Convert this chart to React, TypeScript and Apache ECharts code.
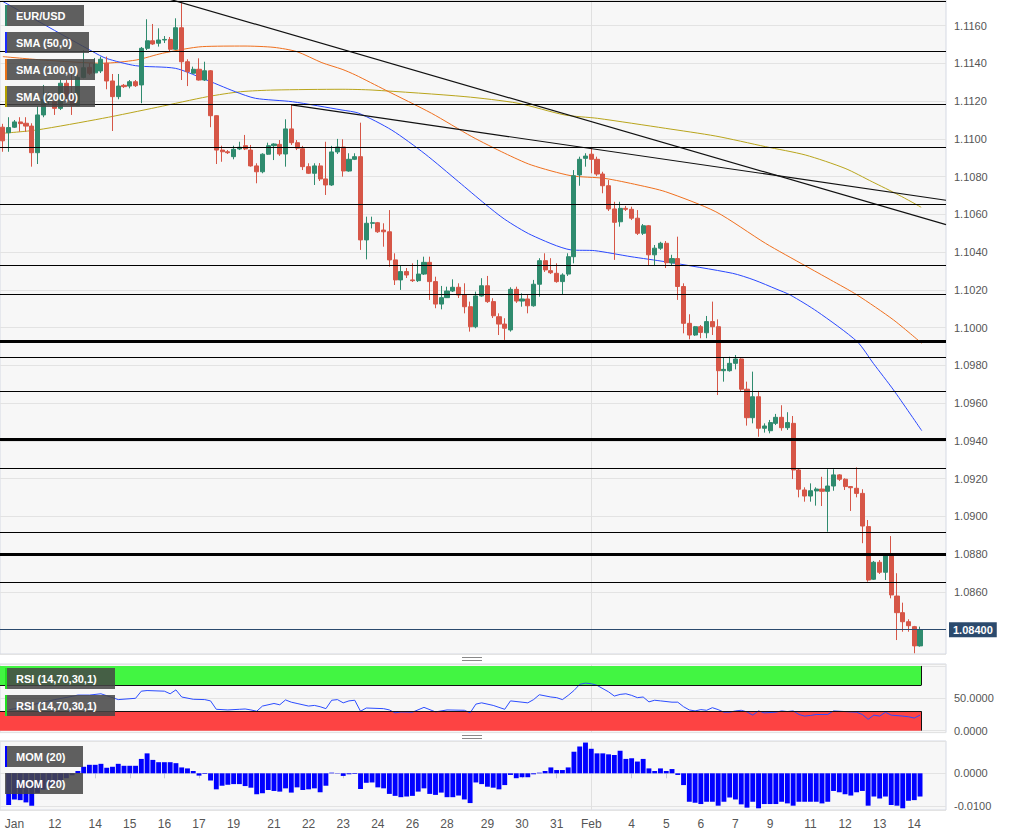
import React, { useEffect, useRef } from 'react';
import * as echarts from 'echarts';

// ---------- DATA ----------
// x-axis day labels and the bar (4h candle) index where each label sits
const dayLabels = ['Jan', '12', '14', '15', '16', '17', '19', '21', '22', '23', '24', '26', '28', '29', '30', '31', 'Feb', '4', '5', '6', '7', '9', '11', '12', '13', '14'];
const dayLabelBars = [1, 8, 15, 21, 27, 33, 39, 46, 52, 58, 64, 70, 76, 83, 89, 95, 101, 108, 114, 120, 126, 132, 139, 145, 151, 157];

// EUR/USD 4h candles: [open, close, low, high]; first one is the partly hidden candle at the left edge
const candles: number[][] = [
  [1.11062, 1.10990, 1.10932, 1.11080],
  [1.11033, 1.11060, 1.10932, 1.11115],
  [1.11062, 1.11090, 1.11058, 1.11100],
  [1.11090, 1.11081, 1.11038, 1.11115],
  [1.11083, 1.11068, 1.11038, 1.11115],
  [1.11068, 1.10927, 1.10853, 1.11083],
  [1.10927, 1.11127, 1.10867, 1.11174],
  [1.11127, 1.11210, 1.11115, 1.11286],
  [1.11201, 1.11211, 1.11185, 1.11249],
  [1.11197, 1.11162, 1.11127, 1.11224],
  [1.11162, 1.11295, 1.11153, 1.11312],
  [1.11295, 1.11224, 1.11206, 1.11312],
  [1.11224, 1.11176, 1.11127, 1.11348],
  [1.11176, 1.11326, 1.11174, 1.11339],
  [1.11326, 1.11377, 1.11321, 1.11471],
  [1.11379, 1.11348, 1.11339, 1.11402],
  [1.11350, 1.11397, 1.11345, 1.11429],
  [1.11360, 1.11422, 1.11349, 1.11436],
  [1.11401, 1.11307, 1.11263, 1.11436],
  [1.11307, 1.11224, 1.11042, 1.11344],
  [1.11224, 1.11280, 1.11210, 1.11344],
  [1.11284, 1.11277, 1.11270, 1.11291],
  [1.11280, 1.11303, 1.11268, 1.11312],
  [1.11303, 1.11282, 1.11275, 1.11312],
  [1.11286, 1.11480, 1.11189, 1.11487],
  [1.11480, 1.11520, 1.11471, 1.11634],
  [1.11520, 1.11503, 1.11498, 1.11609],
  [1.11507, 1.11524, 1.11489, 1.11586],
  [1.11524, 1.11527, 1.11508, 1.11545],
  [1.11527, 1.11475, 1.11461, 1.11540],
  [1.11475, 1.11589, 1.11471, 1.11639],
  [1.11589, 1.11409, 1.11312, 1.11719],
  [1.11409, 1.11356, 1.11280, 1.11422],
  [1.11348, 1.11369, 1.11344, 1.11383],
  [1.11369, 1.11312, 1.11309, 1.11427],
  [1.11312, 1.11361, 1.11307, 1.11409],
  [1.11361, 1.11123, 1.11062, 1.11365],
  [1.11123, 1.10941, 1.10867, 1.11125],
  [1.10941, 1.10932, 1.10879, 1.10964],
  [1.10932, 1.10927, 1.10920, 1.10941],
  [1.10906, 1.10945, 1.10892, 1.10964],
  [1.10947, 1.10956, 1.10941, 1.10985],
  [1.10964, 1.10947, 1.10941, 1.11021],
  [1.10941, 1.10857, 1.10853, 1.10968],
  [1.10857, 1.10826, 1.10765, 1.10871],
  [1.10826, 1.10919, 1.10818, 1.10924],
  [1.10919, 1.10964, 1.10915, 1.10980],
  [1.10964, 1.10973, 1.10888, 1.10977],
  [1.10971, 1.10920, 1.10910, 1.10994],
  [1.10920, 1.11053, 1.10853, 1.11104],
  [1.11053, 1.10980, 1.10968, 1.11180],
  [1.10980, 1.10951, 1.10941, 1.10994],
  [1.10948, 1.10853, 1.10835, 1.10963],
  [1.10853, 1.10818, 1.10814, 1.10871],
  [1.10818, 1.10857, 1.10756, 1.10871],
  [1.10857, 1.10788, 1.10777, 1.10872],
  [1.10788, 1.10756, 1.10703, 1.10985],
  [1.10756, 1.10931, 1.10751, 1.10963],
  [1.10931, 1.10957, 1.10920, 1.11000],
  [1.10957, 1.10830, 1.10800, 1.10998],
  [1.10830, 1.10892, 1.10826, 1.10924],
  [1.10892, 1.10906, 1.10888, 1.10924],
  [1.10906, 1.10465, 1.10412, 1.11086],
  [1.10465, 1.10553, 1.10362, 1.10588],
  [1.10553, 1.10556, 1.10526, 1.10588],
  [1.10556, 1.10508, 1.10502, 1.10560],
  [1.10517, 1.10508, 1.10429, 1.10553],
  [1.10508, 1.10359, 1.10323, 1.10623],
  [1.10359, 1.10253, 1.10226, 1.10394],
  [1.10253, 1.10297, 1.10200, 1.10332],
  [1.10297, 1.10279, 1.10263, 1.10316],
  [1.10253, 1.10249, 1.10242, 1.10341],
  [1.10249, 1.10284, 1.10242, 1.10359],
  [1.10284, 1.10346, 1.10279, 1.10376],
  [1.10346, 1.10244, 1.10147, 1.10376],
  [1.10244, 1.10125, 1.10103, 1.10270],
  [1.10125, 1.10159, 1.10097, 1.10221],
  [1.10159, 1.10194, 1.10157, 1.10217],
  [1.10194, 1.10214, 1.10189, 1.10256],
  [1.10214, 1.10173, 1.10157, 1.10235],
  [1.10173, 1.10111, 1.10076, 1.10235],
  [1.10111, 1.10005, 1.09979, 1.10138],
  [1.10005, 1.10168, 1.09997, 1.10191],
  [1.10168, 1.10222, 1.10164, 1.10262],
  [1.10222, 1.10138, 1.10131, 1.10274],
  [1.10138, 1.10063, 1.10051, 1.10156],
  [1.10058, 1.10019, 1.09961, 1.10076],
  [1.10019, 1.09997, 1.09935, 1.10050],
  [1.09988, 1.10203, 1.09979, 1.10214],
  [1.10203, 1.10141, 1.10131, 1.10217],
  [1.10141, 1.10152, 1.10111, 1.10182],
  [1.10152, 1.10116, 1.10076, 1.10173],
  [1.10116, 1.10230, 1.10111, 1.10253],
  [1.10230, 1.10355, 1.10164, 1.10368],
  [1.10355, 1.10306, 1.10295, 1.10394],
  [1.10302, 1.10291, 1.10284, 1.10368],
  [1.10288, 1.10244, 1.10238, 1.10341],
  [1.10244, 1.10279, 1.10173, 1.10288],
  [1.10284, 1.10376, 1.10274, 1.10394],
  [1.10376, 1.10805, 1.10341, 1.10835],
  [1.10809, 1.10892, 1.10752, 1.10906],
  [1.10897, 1.10909, 1.10853, 1.10924],
  [1.10919, 1.10892, 1.10818, 1.10950],
  [1.10892, 1.10814, 1.10804, 1.10906],
  [1.10814, 1.10752, 1.10712, 1.10826],
  [1.10752, 1.10629, 1.10618, 1.10782],
  [1.10629, 1.10558, 1.10359, 1.10667],
  [1.10561, 1.10632, 1.10535, 1.10667],
  [1.10632, 1.10627, 1.10618, 1.10645],
  [1.10627, 1.10580, 1.10570, 1.10641],
  [1.10580, 1.10500, 1.10491, 1.10623],
  [1.10500, 1.10540, 1.10491, 1.10549],
  [1.10540, 1.10386, 1.10332, 1.10544],
  [1.10386, 1.10421, 1.10332, 1.10438],
  [1.10421, 1.10447, 1.10412, 1.10455],
  [1.10447, 1.10344, 1.10316, 1.10459],
  [1.10343, 1.10366, 1.10332, 1.10386],
  [1.10366, 1.10218, 1.10147, 1.10482],
  [1.10218, 1.10023, 1.09970, 1.10235],
  [1.10023, 1.09961, 1.09938, 1.10071],
  [1.09961, 1.10005, 1.09956, 1.10009],
  [1.10005, 1.09975, 1.09944, 1.10014],
  [1.09973, 1.10032, 1.09944, 1.10062],
  [1.10032, 1.10005, 1.09961, 1.10138],
  [1.10005, 1.09772, 1.09643, 1.10044],
  [1.09772, 1.09779, 1.09714, 1.09841],
  [1.09772, 1.09811, 1.09767, 1.09846],
  [1.09811, 1.09834, 1.09779, 1.09855],
  [1.09834, 1.09674, 1.09665, 1.09838],
  [1.09674, 1.09523, 1.09481, 1.09714],
  [1.09523, 1.09634, 1.09493, 1.09767],
  [1.09634, 1.09467, 1.09422, 1.09665],
  [1.09467, 1.09479, 1.09444, 1.09493],
  [1.09454, 1.09497, 1.09440, 1.09511],
  [1.09493, 1.09525, 1.09484, 1.09543],
  [1.09525, 1.09470, 1.09454, 1.09589],
  [1.09470, 1.09497, 1.09458, 1.09552],
  [1.09493, 1.09246, 1.09198, 1.09532],
  [1.09246, 1.09144, 1.09101, 1.09255],
  [1.09140, 1.09108, 1.09078, 1.09154],
  [1.09108, 1.09136, 1.09078, 1.09175],
  [1.09135, 1.09145, 1.09057, 1.09154],
  [1.09145, 1.09133, 1.09055, 1.09210],
  [1.09133, 1.09161, 1.08919, 1.09250],
  [1.09161, 1.09220, 1.09136, 1.09250],
  [1.09220, 1.09197, 1.09188, 1.09224],
  [1.09197, 1.09158, 1.09140, 1.09202],
  [1.09158, 1.09152, 1.09029, 1.09160],
  [1.09149, 1.09122, 1.09101, 1.09260],
  [1.09122, 1.08949, 1.08858, 1.09144],
  [1.08946, 1.08663, 1.08654, 1.08981],
  [1.08667, 1.08757, 1.08663, 1.08764],
  [1.08757, 1.08704, 1.08695, 1.08769],
  [1.08704, 1.08794, 1.08663, 1.08805],
  [1.08794, 1.08584, 1.08566, 1.08896],
  [1.08578, 1.08490, 1.08345, 1.08699],
  [1.08490, 1.08442, 1.08389, 1.08543],
  [1.08442, 1.08421, 1.08389, 1.08455],
  [1.08416, 1.08314, 1.08275, 1.08420],
  [1.08314, 1.08400, 1.08310, 1.08416],
];

// moving averages: [bar index, price]
const sma50: number[][] = [
  [-1, 1.11728], [14.6, 1.11462], [16.9, 1.11427], [22.0, 1.11388], [28.9, 1.11374], [33.6, 1.11321],
  [39.3, 1.11250], [42.8, 1.11215], [49.2, 1.11197], [57.8, 1.11153], [60.7, 1.11136], [66.4, 1.11047],
  [72.2, 1.10920], [78.0, 1.10773], [82.6, 1.10655], [86.0, 1.10574], [90.6, 1.10491], [97.5, 1.10412],
  [101.6, 1.10408], [107.9, 1.10376], [113.9, 1.10349], [125.5, 1.10288], [129.2, 1.10253], [133.2, 1.10203],
  [135.5, 1.10173], [140.2, 1.10085], [147.1, 1.09926], [149.9, 1.09811], [153.4, 1.09670], [158.3, 1.09454],
];
const sma100: number[][] = [
  [-1, 1.11436], [6.0, 1.11418], [16.3, 1.11401], [22.1, 1.11418], [26.7, 1.11454], [33.6, 1.11489],
  [40.8, 1.11492], [46.0, 1.11485], [50.0, 1.11462], [54.3, 1.11404], [57.8, 1.11369], [60.1, 1.11339],
  [65.3, 1.11259], [73.3, 1.11136], [80.3, 1.11012], [86.0, 1.10924], [90.6, 1.10862], [97.5, 1.10805],
  [103.3, 1.10791], [109.1, 1.10756], [113.9, 1.10720], [122.6, 1.10614], [131.2, 1.10447], [138.1, 1.10328],
  [142.5, 1.10253], [147.1, 1.10173], [153.4, 1.10041], [158.3, 1.09917],
];
const sma200: number[][] = [
  [-1, 1.11030], [4.8, 1.11047], [16.3, 1.11109], [25.8, 1.11168], [34.5, 1.11224], [40.2, 1.11250],
  [46.0, 1.11259], [57.8, 1.11263], [63.0, 1.11259], [79.1, 1.11224], [88.3, 1.11189], [96.4, 1.11127],
  [102.1, 1.11109], [113.9, 1.11056], [122.6, 1.11015], [131.2, 1.10959], [138.1, 1.10915], [145.0, 1.10844],
  [149.7, 1.10773], [154.3, 1.10703], [158.2, 1.10638],
];

// drawn trend lines: [bar index, price]
const trendLineA: number[][] = [[27, 1.11748], [162.5, 1.10546]];
const trendLineB: number[][] = [[49, 1.11180], [162.5, 1.10675]];

// horizontal support / resistance lines and their weights
const levelPrices = [1.11732, 1.11464, 1.11183, 1.10957, 1.10655, 1.10332, 1.10177, 1.09928, 1.09843, 1.09663, 1.09409, 1.09255, 1.08916, 1.08799, 1.08651];
const levelWidths = [1, 1, 1, 1, 1, 1, 1, 3, 1, 1, 3, 1, 1, 3, 1];

// RSI (14,70,30,1): [bar index, value]
const rsi: number[][] = [
  [0, 32], [1, 34], [3, 37], [5, 42], [8, 48], [11, 53], [12, 55], [14, 55], [16, 57], [17, 54], [19, 48], [22, 50],
  [23, 61], [24, 62], [27, 61], [28, 57], [29, 63], [30, 52], [32, 48.5], [34, 48], [35, 46], [36, 33], [38, 32],
  [40, 33], [41, 33.5], [42, 32], [43, 30], [44, 38], [46, 42], [47, 40], [48, 47.5], [49, 44], [50, 42], [52, 38],
  [53, 39], [54, 37], [55, 34], [56, 47], [57, 48], [58, 43], [59, 46], [60, 47], [61, 30], [62, 35], [65, 34],
  [66, 32], [67, 27.5], [68, 29], [70, 28.5], [72, 36], [74, 29], [76, 32], [79, 31.5], [80, 27.5], [81, 41],
  [82, 43], [84, 39], [85, 36], [86, 33], [87, 46], [89, 44], [90, 43], [91, 48], [92, 55.5], [94, 52], [95, 51],
  [96, 48], [97, 54.5], [98, 62], [99, 71.5], [100, 73.5], [101, 72.5], [102, 70], [104, 60], [105, 53.5],
  [106, 56], [107, 57], [108, 54.5], [109, 51], [110, 52], [111, 44.5], [112, 47], [113, 46], [115, 44],
  [116, 44], [117, 37], [118, 32], [119, 30.5], [120, 32.5], [121, 31.5], [122, 35.5], [123, 32.5], [124, 28.5],
  [125, 28.5], [126, 30.5], [127, 31.5], [128, 29], [129, 24], [130, 30.5], [131, 27.5], [133, 28.5], [134, 30.5],
  [135, 29.5], [136, 30.5], [137, 25], [138, 22.5], [139, 23.5], [140, 25], [142, 25], [143, 30.5], [145, 29.5],
  [147, 28.5], [148, 25], [149, 17.5], [150, 24], [151, 22.5], [152, 28.5], [153, 24], [155, 22.5], [156, 21.5],
  [157, 19.5], [158, 24],
];
const rsiUpper = 70;
const rsiLower = 30;

// Momentum (20), one value per bar from bar 0
const mom = [
  -0.0097, -0.0080, -0.0082, -0.0089, -0.0099, -0.0060, -0.0050, -0.0040, -0.0035, -0.0022,
  -0.0015, -0.0006, 0.0007, 0.0020, 0.0026, 0.0026, 0.0029, 0.0017, 0.0020, 0.0029,
  0.0023, 0.0023, 0.0023, 0.0044, 0.0061, 0.0041, 0.0034, 0.0034, 0.0034, 0.0031,
  0.0018, 0.0015, 0.0007, -0.0007, -0.0002, -0.0022, -0.0049, -0.0038, -0.0035, -0.0033,
  -0.0033, -0.0039, -0.0044, -0.0064, -0.0061, -0.0051, -0.0054, -0.0056, -0.0046, -0.0059,
  -0.0043, -0.0051, -0.0049, -0.0046, -0.0058, -0.0038, 0.0002, -0.0001, -0.0008, -0.0003,
  -0.0002, -0.0048, -0.0029, -0.0028, -0.0043, -0.0046, -0.0063, -0.0069, -0.0073, -0.0071,
  -0.0069, -0.0056, -0.0046, -0.0063, -0.0066, -0.0059, -0.0073, -0.0073, -0.0068, -0.0080,
  -0.0091, -0.0028, -0.0033, -0.0041, -0.0044, -0.0049, -0.0036, -0.0005, -0.0015, -0.0012,
  -0.0012, -0.0003, 0.0002, 0.0007, 0.0018, 0.0010, 0.0010, 0.0018, 0.0066, 0.0082,
  0.0094, 0.0075, 0.0061, 0.0061, 0.0058, 0.0056, 0.0069, 0.0044, 0.0046, 0.0036,
  0.0044, 0.0015, 0.0007, 0.0015, 0.0007, 0.0013, -0.0005, -0.0036, -0.0087, -0.0090,
  -0.0094, -0.0087, -0.0087, -0.0099, -0.0087, -0.0074, -0.0080, -0.0095, -0.0105, -0.0087,
  -0.0107, -0.0094, -0.0094, -0.0094, -0.0087, -0.0092, -0.0099, -0.0087, -0.0087, -0.0087,
  -0.0087, -0.0092, -0.0087, -0.0054, -0.0058, -0.0064, -0.0068, -0.0058, -0.0054, -0.0099,
  -0.0071, -0.0077, -0.0071, -0.0097, -0.0099, -0.0107, -0.0084, -0.0082, -0.0071,
];

// ---------- LAYOUT CONSTANTS ----------
const SLOTS = 164; // category slots (partial candle + 159 candles + empty space on the right)
const FONT = 'Arial, "Liberation Sans", Helvetica, sans-serif';
const UP = '#2f8b6e';
const DOWN = '#d65647';

const categories: string[] = new Array(SLOTS).fill('');
dayLabels.forEach((l, j) => { categories[dayLabelBars[j] + 1] = l; });
const febBar = dayLabelBars[dayLabels.indexOf('Feb')];
const lastClose = candles[candles.length - 1][1];
const lastBar = candles.length - 2;
const rsiEnd = lastBar + 0.2;
const momData: (number | null)[] = [null, ...mom];

const gridBase = { left: -3.2, right: 69, show: true, backgroundColor: '#f7f7f7', borderColor: '#d5d9e3', borderWidth: 1 };
const hiddenCat = (gridIndex: number) => ({
  type: 'category', gridIndex, data: categories, boundaryGap: true,
  axisLine: { show: false }, axisTick: { show: false }, axisLabel: { show: false }, splitLine: { show: false },
});
const hiddenVal = (gridIndex: number) => ({ type: 'value', gridIndex, min: -1.5, max: SLOTS - 1.5, show: false });
const axisLabelStyle = { color: '#555', fontSize: 11, fontFamily: FONT, margin: 8 };
const febLine = (xAxisIndex: number, yAxisIndex: number) => ({
  type: 'line', xAxisIndex, yAxisIndex, data: [], z: 0, silent: true,
  markLine: { silent: true, z: 1, symbol: ['none', 'none'], label: { show: false }, animation: false, precision: 6,
    lineStyle: { color: '#e0e0e0', width: 1, type: 'solid' }, data: [{ xAxis: febBar }] },
});

function labelBox(y: number, w: number, text: string, stripe: string | null) {
  const els: any[] = [
    { type: 'rect', shape: { x: 5, y, width: w, height: 21 }, style: { fill: 'rgba(70,70,70,0.86)' }, z: 100 },
    { type: 'text', x: 16, y: y + 11, z: 101,
      style: { text, fill: '#ffffff', fontSize: 11, fontWeight: 'bold', fontFamily: FONT, verticalAlign: 'middle', align: 'left' } },
  ];
  if (stripe) els.push({ type: 'rect', shape: { x: 5, y, width: 2, height: 21 }, style: { fill: stripe }, z: 101 });
  return els;
}
function handle(y: number) {
  return [
    { type: 'line', shape: { x1: 462, y1: y, x2: 482, y2: y }, style: { stroke: '#888', lineWidth: 1 }, z: 100 },
    { type: 'line', shape: { x1: 462, y1: y + 3, x2: 482, y2: y + 3 }, style: { stroke: '#888', lineWidth: 1 }, z: 100 },
  ];
}

const option: any = {
  animation: false,
  backgroundColor: '#ffffff',
  textStyle: { fontFamily: FONT },
  grid: [
    { ...gridBase, top: 0, height: 654 },
    { ...gridBase, top: 664, height: 68.6 },
    { ...gridBase, top: 741, height: 69 },
  ],
  xAxis: [
    hiddenCat(0),
    hiddenVal(0),
    hiddenCat(1),
    hiddenVal(1),
    {
      type: 'category', gridIndex: 2, data: categories, boundaryGap: true,
      axisLine: { show: false },
      axisTick: { show: true, alignWithLabel: true, length: 5, interval: (_i: number, v: string) => v !== '', lineStyle: { color: '#c8ccd6' } },
      axisLabel: { interval: (_i: number, v: string) => v !== '', color: '#555', fontSize: 12, fontFamily: FONT, margin: 8 },
      splitLine: { show: false },
    },
    hiddenVal(2),
  ],
  yAxis: [
    {
      type: 'value', gridIndex: 0, position: 'right', min: 1.08271, max: 1.11736, splitNumber: 17,
      axisLine: { show: false }, axisTick: { show: false },
      splitLine: { lineStyle: { color: '#e3e3e3' } },
      axisLabel: { ...axisLabelStyle, showMinLabel: false, showMaxLabel: false,
        formatter: (v: number) => (Math.abs(v - lastClose) < 1e-7 ? '' : v.toFixed(4)) },
    },
    {
      type: 'value', gridIndex: 1, position: 'right', min: -3, max: 103, splitNumber: 2,
      axisLine: { show: false }, axisTick: { show: false },
      splitLine: { lineStyle: { color: '#e3e3e3' } },
      axisLabel: { ...axisLabelStyle, showMinLabel: false, showMaxLabel: false,
        formatter: (v: number) => (v === 0 || v === 50 ? v.toFixed(4) : '') },
    },
    {
      type: 'value', gridIndex: 2, position: 'right', min: -0.01122, max: 0.00988, splitNumber: 2,
      axisLine: { show: false }, axisTick: { show: false },
      splitLine: { lineStyle: { color: '#e3e3e3' } },
      axisLabel: { ...axisLabelStyle, showMinLabel: false, showMaxLabel: false,
        formatter: (v: number) => (Math.abs(v) < 1e-9 ? '0.0000' : v.toFixed(4)) },
    },
  ],
  series: [
    febLine(1, 0),
    {
      type: 'line', name: 'SMA (200,0)', xAxisIndex: 1, yAxisIndex: 0, data: sma200, symbol: 'none', smooth: 0.25,
      z: 1, lineStyle: { color: '#b9a51c', width: 1 }, silent: true,
    },
    {
      type: 'line', name: 'SMA (100,0)', xAxisIndex: 1, yAxisIndex: 0, data: sma100, symbol: 'none', smooth: 0.25,
      z: 1, lineStyle: { color: '#f0701e', width: 1 }, silent: true,
    },
    {
      type: 'line', name: 'SMA (50,0)', xAxisIndex: 1, yAxisIndex: 0, data: sma50, symbol: 'none', smooth: 0.25,
      z: 1, lineStyle: { color: '#2a48ff', width: 1 }, silent: true,
    },
    {
      type: 'candlestick', name: 'EUR/USD', xAxisIndex: 0, yAxisIndex: 0, data: candles, barWidth: 4.6,
      itemStyle: { color: UP, color0: DOWN, borderColor: UP, borderColor0: DOWN, borderWidth: 1 },
      markLine: {
        silent: true, symbol: ['none', 'none'], animation: false, label: { show: false }, precision: 6,
        data: [
          ...levelPrices.map((p, j) => ({ yAxis: p, lineStyle: { color: '#000', width: levelWidths[j], type: 'solid' } })),
          {
            yAxis: lastClose, lineStyle: { color: '#2b4a6d', width: 1, type: 'solid' },
            label: { show: true, position: 'end', distance: 3, formatter: lastClose.toFixed(5), color: '#fff',
              backgroundColor: '#2b4a6d', fontWeight: 'bold', fontSize: 11, fontFamily: FONT, padding: [2, 4, 2, 4] },
          },
        ],
      },
    },
    {
      type: 'line', xAxisIndex: 1, yAxisIndex: 0, data: trendLineA, symbol: 'none', z: 3, silent: true,
      lineStyle: { color: '#111', width: 1.2 },
    },
    {
      type: 'line', xAxisIndex: 1, yAxisIndex: 0, data: trendLineB, symbol: 'none', z: 3, silent: true,
      lineStyle: { color: '#111', width: 1.2 },
    },
    febLine(3, 1),
    {
      type: 'line', name: 'RSI (14,70,30,1)', xAxisIndex: 3, yAxisIndex: 1, data: rsi, symbol: 'none', z: 3, silent: true,
      lineStyle: { color: '#2b4cff', width: 1 },
      markArea: {
        silent: true, animation: false, z: 2,
        data: [
          [{ xAxis: -1.5, yAxis: rsiUpper, itemStyle: { color: '#42f542' } }, { xAxis: rsiEnd, yAxis: 100 }],
          [{ xAxis: -1.5, yAxis: 0, itemStyle: { color: '#fd4343' } }, { xAxis: rsiEnd, yAxis: rsiLower }],
        ],
      },
      markLine: {
        silent: true, symbol: ['none', 'none'], animation: false, label: { show: false }, precision: 6,
        lineStyle: { color: '#111', width: 1, type: 'solid' },
        data: [
          [{ coord: [-1.5, rsiUpper] }, { coord: [rsiEnd, rsiUpper] }],
          [{ coord: [-1.5, rsiLower] }, { coord: [rsiEnd, rsiLower] }],
          [{ coord: [rsiEnd, rsiUpper] }, { coord: [rsiEnd, 100] }],
          [{ coord: [rsiEnd, 0] }, { coord: [rsiEnd, rsiLower] }],
        ],
      },
    },
    febLine(5, 2),
    {
      type: 'bar', name: 'MOM (20)', xAxisIndex: 4, yAxisIndex: 2, data: momData, barWidth: 4.9, silent: true,
      itemStyle: { color: '#0000ff' },
    },
  ],
  graphic: [
    ...labelBox(5, 79, 'EUR/USD', UP),
    ...labelBox(32, 84, 'SMA (50,0)', '#1a2bff'),
    ...labelBox(59, 90, 'SMA (100,0)', '#e8731a'),
    ...labelBox(86, 90, 'SMA (200,0)', '#b3a000'),
    ...labelBox(668, 110, 'RSI (14,70,30,1)', '#22e022'),
    ...labelBox(695, 110, 'RSI (14,70,30,1)', '#22e022'),
    ...labelBox(746, 78, 'MOM (20)', '#0000ff'),
    ...labelBox(773, 78, 'MOM (20)', null),
    ...handle(657.5),
    ...handle(735.5),
  ],
};

export default function App() {
  const ref = useRef<HTMLDivElement>(null);
  useEffect(() => {
    if (!ref.current) return;
    const chart = echarts.init(ref.current, null, { renderer: 'svg' });
    chart.setOption(option);
    return () => chart.dispose();
  }, []);
  return (
    <div
      ref={ref}
      style={{ position: 'absolute', left: 0, top: 0, width: 1015, height: 836, background: '#ffffff' }}
    />
  );
}
